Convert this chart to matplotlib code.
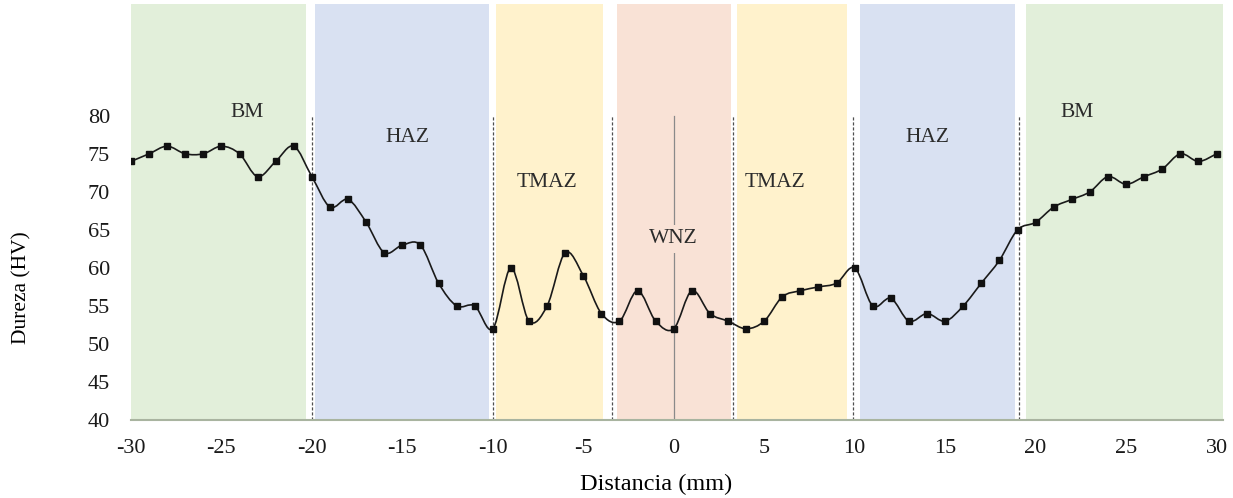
import numpy as np
import matplotlib
matplotlib.use("Agg")
import matplotlib.pyplot as plt
from matplotlib.path import Path
from matplotlib.patches import PathPatch

plt.rcParams['font.family'] = ['Liberation Serif', 'DejaVu Serif']
plt.rcParams['axes.unicode_minus'] = False

# hardness profile, one point per mm
distancia = list(range(-30, 31))
dureza = [74, 75, 76, 75, 75, 76, 75, 72, 74, 76,
          72, 68, 69, 66, 62, 63, 63, 58, 55, 55,
          52, 60, 53, 55, 62, 59, 54, 53, 57, 53,
          52, 57, 54, 53, 52, 53, 56.2, 57, 57.5, 58,
          60, 55, 56, 53, 54, 53, 55, 58, 61, 65,
          66, 68, 69, 70, 72, 71, 72, 73, 75, 74, 75]

# zones
zonas = [(-30.0, -20.3), (-19.8, -10.2), (-9.8, -3.9), (-3.15, 3.15),
         (3.5, 9.6), (10.3, 18.85), (19.45, 30.35)]
zona_colores = ['#e2efda', '#d9e1f2', '#fff2cc', '#f9e2d6',
                '#fff2cc', '#d9e1f2', '#e2efda']
zona_nombres = ['BM', 'HAZ', 'TMAZ', 'WNZ', 'TMAZ', 'HAZ', 'BM']
nombre_x = [-23.6, -14.7, -7.0, 0.0, 5.6, 14.0, 22.3]
nombre_y = [80.4, 77.1, 71.2, 63.8, 71.2, 77.1, 80.4]
limites = [-20.0, -10.0, -3.4, 3.3, 9.9, 19.1]

fig = plt.figure(figsize=(12.33, 4.98), dpi=100)
ax = fig.add_axes([0.1062, 0.1566, 0.8856, 0.8354])
ax.set_xlim(-30, 30.35)
ax.set_ylim(40, 94.7)

for (a, b), c in zip(zonas, zona_colores):
    ax.axvspan(a, b, ymin=0, ymax=1, color=c, lw=0, zorder=0)

for xl in limites:
    ax.plot([xl, xl], [40, 80], ls=(0, (2.5, 1.5)), color='#505050', lw=0.9, zorder=1)

ax.plot([0, 0], [40, 80], color='#8a8a8a', lw=0.9, zorder=1)

# smoothed line (Catmull-Rom -> cubic Bezier, like Excel's smoothed line)
x = np.array(distancia, dtype=float)
y = np.array(dureza, dtype=float)
verts = [(x[0], y[0])]
codes = [Path.MOVETO]
n = len(x)
for i in range(n - 1):
    p0 = np.array([x[max(i - 1, 0)], y[max(i - 1, 0)]])
    p1 = np.array([x[i], y[i]])
    p2 = np.array([x[i + 1], y[i + 1]])
    p3 = np.array([x[min(i + 2, n - 1)], y[min(i + 2, n - 1)]])
    c1 = p1 + (p2 - p0) / 6.0
    c2 = p2 - (p3 - p1) / 6.0
    verts += [tuple(c1), tuple(c2), tuple(p2)]
    codes += [Path.CURVE4] * 3
ax.add_patch(PathPatch(Path(verts, codes), fill=False, ec='#1a1a1a', lw=1.2, zorder=2))
ax.plot(x, y, ls='none', marker='s', ms=4, color='#111111', zorder=3)

for nm, tx, ty, c in zip(zona_nombres, nombre_x, nombre_y, zona_colores):
    kw = {}
    if nm == 'WNZ':
        kw['bbox'] = dict(facecolor=c, edgecolor='none', pad=3)
    ax.text(tx, ty, nm, ha='center', va='center', fontsize=15.5, color='#2b2b2b', zorder=4, **kw)

ax.set_xticks(range(-30, 31, 5))
ax.set_yticks(range(40, 81, 5))
ax.tick_params(axis='both', length=0, labelsize=16, colors='#1a1a1a')
ax.tick_params(axis='y', pad=15)
ax.tick_params(axis='x', pad=14)
for s in ['top', 'right', 'left']:
    ax.spines[s].set_visible(False)
ax.spines['bottom'].set_color('#a9b4a0')
ax.spines['bottom'].set_linewidth(1.5)

fig.text(0.018, 0.422, 'Dureza (HV)', rotation=90, ha='center', va='center', fontsize=15.5)
fig.text(0.532, 0.028, 'Distancia (mm)', ha='center', va='center', fontsize=17.5)

fig.savefig('out.png', dpi=100)
